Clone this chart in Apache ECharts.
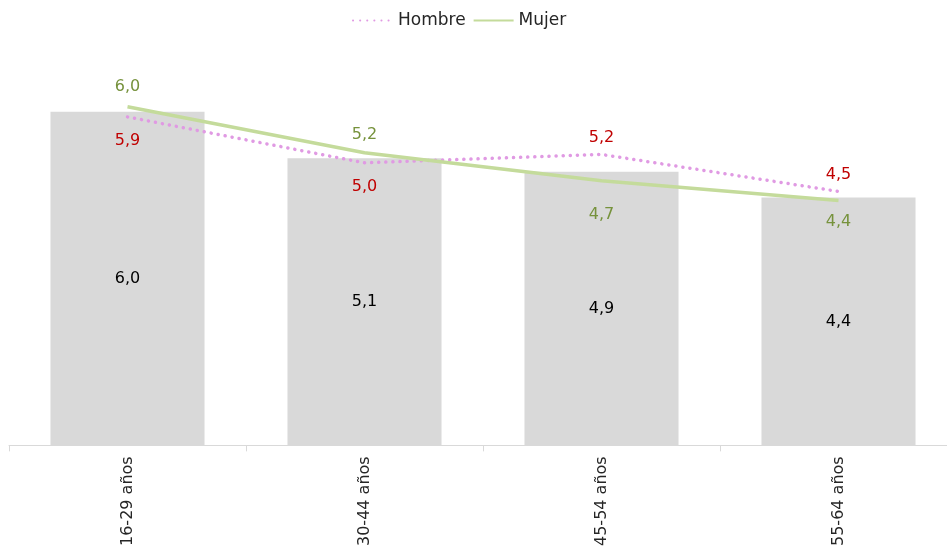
<!DOCTYPE html>
<html><head><meta charset="utf-8">
<script src="https://cdn.jsdelivr.net/npm/echarts@6/dist/echarts.min.js"></script>
<style>html,body{margin:0;padding:0;background:#fff;overflow:hidden}#c{width:958px;height:549px}</style>
</head><body><div id="c"></div>
<script>
var categories = ['16-29 años', '30-44 años', '45-54 años', '55-64 años'];
var totalValues = [5.95, 5.12, 4.88, 4.42];
var hombreValues = [5.86, 5.04, 5.19, 4.53];
var mujerValues = [6.04, 5.22, 4.72, 4.37];
var hombrePos = ['bottom', 'bottom', 'top', 'top'];
var mujerPos = ['top', 'top', 'bottom', 'bottom'];
var hombreDist = [16, 16, 9, 9];
var mujerDist = [12, 10, 26, 13];

var FONT = 'DejaVu Sans';
function fmt(v){ return (Math.round(v*10)/10).toFixed(1).replace('.', ','); }

var chart = echarts.init(document.getElementById('c'), null, {renderer:'canvas'});
chart.setOption({
  animation: false,
  textStyle: {fontFamily: FONT},
  legend: {
    top: 7, left: 347, itemWidth: 40, itemHeight: 12, itemGap: 7,
    textStyle: {fontSize: 17, color: '#262626', fontFamily: FONT},
    itemStyle: {opacity: 0},
    data: [{name:'Hombre'}, {name:'Mujer'}]
  },
  grid: {left: 9, right: 1, top: 53, bottom: 103},
  xAxis: {
    type: 'category', data: categories,
    axisLine: {lineStyle: {color: '#D9D9D9', width: 1}},
    axisTick: {show: true, length: 6, lineStyle: {color: '#D9D9D9'}},
    axisLabel: {rotate: 90, fontSize: 16, color: '#262626', fontFamily: FONT, margin: 11}
  },
  yAxis: {type: 'value', min: 0, max: 7, show: false, splitLine: {show: false}},
  series: [
    {
      name: 'Total', type: 'bar', data: totalValues, barWidth: '65%',
      itemStyle: {color: '#D9D9D9'},
      label: {show: true, position: 'inside', color: '#000', fontSize: 16, fontFamily: FONT,
        formatter: function(p){ return fmt(p.value); }}
    },
    {
      name: 'Hombre', type: 'line', symbol: 'circle', symbolSize: 0.01, showSymbol: true, z: 3,
      lineStyle: {color: '#E09AE3', width: 3.5, type: [0.1, 7], cap: 'round'},
      itemStyle: {color: '#E09AE3'},
      data: hombreValues.map(function(v, i){
        return {value: v, label: {position: hombrePos[i], distance: hombreDist[i]}};
      }),
      label: {show: true, color: '#C00000', fontSize: 16, fontFamily: FONT,
        formatter: function(p){ return fmt(p.value); }}
    },
    {
      name: 'Mujer', type: 'line', symbol: 'circle', symbolSize: 0.01, showSymbol: true, z: 4,
      lineStyle: {color: '#C4DB9B', width: 3.5},
      itemStyle: {color: '#C4DB9B'},
      data: mujerValues.map(function(v, i){
        return {value: v, label: {position: mujerPos[i], distance: mujerDist[i]}};
      }),
      label: {show: true, color: '#76923C', fontSize: 16, fontFamily: FONT,
        formatter: function(p){ return fmt(p.value); }}
    }
  ]
});
</script></body></html>
